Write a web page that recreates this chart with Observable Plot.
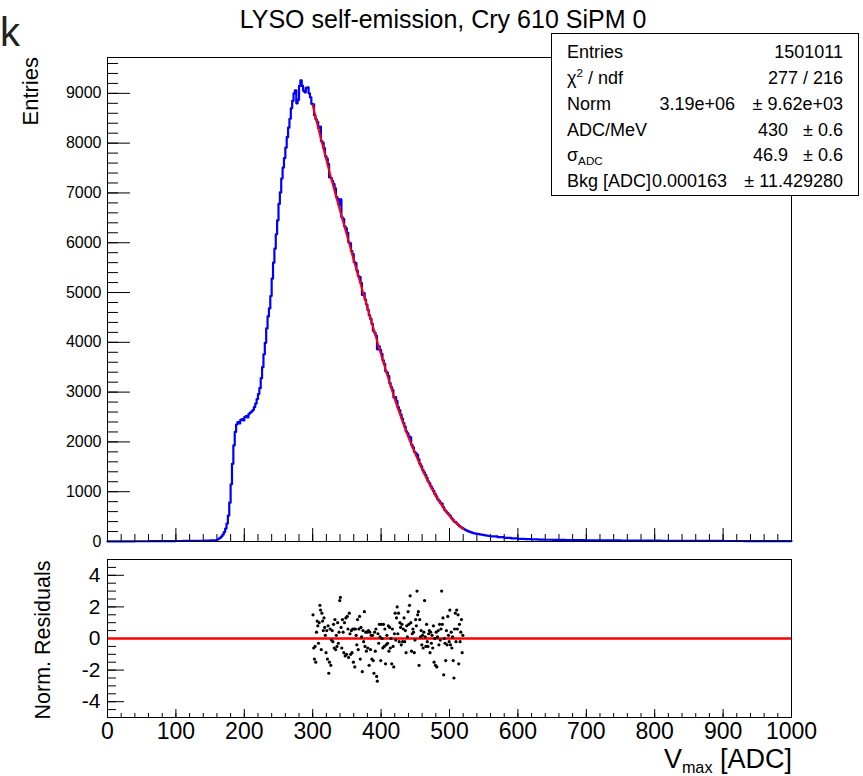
<!DOCTYPE html>
<html><head><meta charset="utf-8">
<script src="https://cdn.jsdelivr.net/npm/d3@7"></script>
<script src="https://cdn.jsdelivr.net/npm/@observablehq/plot@0.6"></script>
<style>
html,body{margin:0;padding:0;background:#fff;}
#wrap{position:relative;width:863px;height:776px;overflow:hidden;background:#fff;font-family:"Liberation Sans",Arial,Helvetica,sans-serif;}
.abs{position:absolute;white-space:nowrap;color:#000;}
#wrap svg{position:absolute;left:0;overflow:visible;}
</style></head>
<body><div id="wrap"></div>
<script>
// ---------------- data ----------------
const titleText = "LYSO self-emission, Cry 610 SiPM 0";
const panelTag = "k";
const yTitleTop = "Entries";
const yTitleBottom = "Norm. Residuals";

// histogram: counts per 1-ADC bin, listed in three segments
const lowStart = 0, lowWidth = 10;
const lowCounts = [2,3,3,4,5,5,6,7,8,9,10,11,12,14,17,24];
const mainStart = 160, mainWidth = 2;
const mainCounts = [
  40,55,75,100,140,190,260,360,520,780,
  1150,1560,1930,2200,2350,2400,2370,2440,2460,2430,
  2500,2520,2490,2560,2590,2610,2640,2700,2770,2860,
  2960,3080,3280,3500,3760,3990,4280,4520,4680,4930,
  5280,5600,5880,6170,6450,6780,7010,7290,7510,7700,
  7910,8120,8310,8490,8700,8850,9000,9060,8800,8870,
  9150,9260,9150,9050,9020,9110,9120,9000,8920,8790,
  8780,8560,8480,8430,8300,8330,8040,8010,7900,7740,
  7690,7580,7310,7300,7240,7180,7090,6920,6880,6760,
  6870,6510,6480,6330,6290,6200,6010,5990,5830,5770,
  5610,5590,5440,5330,5310,5190,4950,4990,4860,4760,
  4650,4540,4470,4370,4230,4190,4130,3860,3920,3850,
  3770,3640,3570,3420,3390,3320,3180,3100,3040,2890,
  2900,2820,2700,2640,2550,2470,2380,2310,2210,2170,
  2110,2090,1940,1890,1800,1770,1740,1650,1560,1510,
  1440,1390,1340,1280,1210,1170,1110,1060,1010,950,
  905,850,815,775,760,690,640,605,575,545,
  515,470,440,400,390,360,335,308,287,268,
  252,236,222,209,197,188,178,170,163,157,
  152,147,142,137,132,127,122,118,114,110
];
const tailStart = 560, tailWidth = 10;
const tailCounts = [104,86,72,62,54,48,43,39,35,33,31,29,27,26,25,24,23,22,21,20,
  19,18,17,16,16,15,14,14,13,13,12,12,11,11,10,10,10,9,9,9,8,8,8,8];
const histEnd = 1000;

// fit function (red)
const fitAdc = [300,310,320,330,340,350,360,370,380,390,400,410,420,430,440,450,460,470,480,490,500,510,520];
const fitCounts = [8760,8200,7660,7140,6640,6150,5650,5170,4700,4225,3750,3300,2860,2460,2090,1760,1450,1170,915,700,515,365,250];

// normalised residuals, one per bin from 300 to 519
const residStart = 300;
const residuals = [
  1.5,-0.6,-1.3,-0.5,-1.5,0.4,1.1,0.8,-0.3,1.0,
  2.1,1.8,-0.7,1.6,1.1,0.5,1.3,0.7,0.2,-0.9,
  0.5,-1.3,0.8,-2.2,-1.5,0.6,-1.7,-0.1,0.5,-0.2,
  0.9,-0.6,1.2,-0.7,0.2,-0.5,1.0,-0.3,0.4,2.4,
  2.6,0.7,-0.6,1.2,0.4,-0.9,1.0,-1.1,1.3,-1.0,
  1.4,0.6,-1.2,1.6,0.3,-1.0,0.5,-0.9,0.6,-1.5,
  0.6,-1.8,0.6,0.2,-0.4,1.2,-0.7,0.6,1.4,-1.3,
  0.7,0.1,-2.1,0.5,-0.2,1.7,-0.5,0.4,-0.8,0.4,
  -0.6,0.5,-1.7,0.4,-0.7,0.2,-1.3,0.2,-1.4,-2.2,
  0.4,-0.8,0.6,-2.4,-2.7,0.3,-0.3,0.9,0.1,-1.4,
  0.9,0.0,-0.6,0.9,-0.5,0.6,-1.6,-0.4,0.2,-0.3,
  0.8,-0.8,0.7,-0.6,0.0,-1.6,0.6,-0.5,-1.8,0.3,
  1.6,-0.1,1.3,2.0,0.3,1.6,-0.2,1.0,0.7,-0.4,
  0.9,-0.2,0.6,1.3,-0.2,0.5,-0.9,0.8,0.1,1.7,
  0.9,2.1,2.7,1.0,-0.8,0.3,0.6,0.4,-0.9,-0.1,
  1.2,0.8,3.0,1.5,1.7,-1.7,1.2,0.1,0.5,-0.4,
  0.2,-0.6,0.4,2.4,0.1,-0.5,0.9,-0.2,-0.5,0.3,
  0.5,-0.9,0.4,-0.3,0.2,-0.6,0.8,-1.5,0.0,-1.7,
  0.4,-1.8,0.1,0.5,-0.4,0.9,-0.1,0.6,3.0,0.9,
  1.3,-2.3,0.0,-0.3,-1.4,0.5,-0.4,1.4,0.2,-0.2,
  1.8,-0.4,0.4,-0.6,0.1,-1.4,-2.5,0.6,1.6,-0.2,
  1.8,0.6,1.5,-1.6,0.9,-0.2,0.4,1.2,-0.9,0.2
];

// axes
const xDomain = [0, 1000];
const yTopDomain = [0, 9720];
const yBottomDomain = [-5, 5];
const xTicks = [0,100,200,300,400,500,600,700,800,900,1000];
const xTickLabels = ["0","100","200","300","400","500","600","700","800","900","1000"];
const yTopTicks = [0,1000,2000,3000,4000,5000,6000,7000,8000,9000];
const yTopTickLabels = ["0","1000","2000","3000","4000","5000","6000","7000","8000","9000"];
const yBottomTicks = [-4,-2,0,2,4];
const yBottomTickLabels = ["-4","-2","0","2","4"];

// statistics box
const statNames = ["Entries","χ<sup>2</sup> / ndf","Norm","ADC/MeV","σ<sub>ADC</sub>","Bkg [ADC]"];
const statValues = ["1501011","277 / 216","3.19e+06","430","46.9","0.000163"];
const statErrors = ["","","± 9.62e+03","± 0.6","± 0.6","± 11.429280"];

// ---------------- build tables ----------------
const hist = [];
lowCounts.forEach((c,i)=>hist.push({x: lowStart + i*lowWidth, y: c}));
mainCounts.forEach((c,i)=>hist.push({x: mainStart + i*mainWidth, y: c}));
tailCounts.forEach((c,i)=>hist.push({x: tailStart + i*tailWidth, y: c}));
hist.push({x: histEnd, y: tailCounts[tailCounts.length-1]});
const fit = fitAdc.map((x,i)=>({x, y: fitCounts[i]}));
const resid = residuals.map((r,i)=>({x: residStart + i + 0.5, y: r}));

const xMinor = d3.range(xDomain[0], xDomain[1] + 1, 20);
const yTopMinor = d3.range(0, yTopDomain[1], 200);
const yBottomMinor = d3.range(-5, 5.01, 0.5);

const font = '"Liberation Sans", Arial, Helvetica, sans-serif';
const W = 863;
const L = 107, R = 72;
const frameW = W - L - R;

// ---------------- top panel ----------------
const topH = 560, topMT = 57, topMB = 19;
const topFrameH = topH - topMT - topMB;
const topPlot = Plot.plot({
  width: W, height: topH,
  marginLeft: L, marginRight: R, marginTop: topMT, marginBottom: topMB,
  style: {fontFamily: font, background: "transparent", color: "#000", overflow: "visible"},
  x: {domain: xDomain, axis: null},
  y: {domain: yTopDomain},
  marks: [
    Plot.ruleX(xMinor, {x: d=>d, insetTop: topFrameH - 7, stroke: "#000", strokeWidth: 1}),
    Plot.ruleX(xTicks, {x: d=>d, insetTop: topFrameH - 13, stroke: "#000", strokeWidth: 1}),
    Plot.ruleY(yTopMinor, {y: d=>d, insetRight: frameW - 11, stroke: "#000", strokeWidth: 1}),
    Plot.ruleY(yTopTicks, {y: d=>d, insetRight: frameW - 23, stroke: "#000", strokeWidth: 1}),
    Plot.axisY(yTopTicks, {tickSize: 0, tickPadding: 6, fontSize: 16, label: null,
      tickFormat: d => yTopTickLabels[yTopTicks.indexOf(d)]}),
    Plot.line(hist, {x: "x", y: "y", curve: "step-after", stroke: "#0000ff", strokeWidth: 2.2}),
    Plot.line(fit, {x: "x", y: "y", curve: "natural", stroke: "#ff0000", strokeWidth: 2}),
    Plot.frame({stroke: "#000", strokeWidth: 1})
  ]
});
topPlot.style.top = "0px";
document.getElementById("wrap").appendChild(topPlot);

// ---------------- residual panel ----------------
const botTop = 545, botH = 231, botMT = 14, botMB = 59;
const botFrameH = botH - botMT - botMB;
const botPlot = Plot.plot({
  width: W, height: botH,
  marginLeft: L, marginRight: R, marginTop: botMT, marginBottom: botMB,
  style: {fontFamily: font, background: "transparent", color: "#000", overflow: "visible"},
  x: {domain: xDomain, label: null},
  y: {domain: yBottomDomain, label: null},
  marks: [
    Plot.ruleX(xMinor, {x: d=>d, insetTop: botFrameH - 4, stroke: "#000", strokeWidth: 1}),
    Plot.ruleX(xTicks, {x: d=>d, insetTop: botFrameH - 8, stroke: "#000", strokeWidth: 1}),
    Plot.ruleY(yBottomMinor, {y: d=>d, insetRight: frameW - 9, stroke: "#000", strokeWidth: 1}),
    Plot.ruleY(yBottomTicks, {y: d=>d, insetRight: frameW - 17, stroke: "#000", strokeWidth: 1}),
    Plot.axisX(xTicks, {tickSize: 0, tickPadding: 5, fontSize: 23, label: null,
      tickFormat: d => xTickLabels[xTicks.indexOf(d)]}),
    Plot.axisY(yBottomTicks, {tickSize: 0, tickPadding: 7, fontSize: 21, label: null,
      tickFormat: d => yBottomTickLabels[yBottomTicks.indexOf(d)]}),
    Plot.ruleY([0], {stroke: "#ff0000", strokeWidth: 2.5}),
    Plot.dot(resid, {x: "x", y: "y", r: 1.6, fill: "#000", stroke: null}),
    Plot.frame({stroke: "#000", strokeWidth: 1})
  ]
});
botPlot.style.top = botTop + "px";
document.getElementById("wrap").appendChild(botPlot);

// ---------------- text around the plots ----------------
const wrap = document.getElementById("wrap");
function txt(html, o) {
  const d = document.createElement("div");
  d.className = "abs";
  d.innerHTML = html;
  const fs = o.size;
  d.style.fontSize = fs + "px";
  d.style.lineHeight = fs + "px";
  d.style.top = (o.baseline - 0.847 * fs) + "px";
  if (o.align === "right") d.style.right = (W - o.x) + "px";
  else if (o.align === "center") { d.style.left = (o.x - 400) + "px"; d.style.width = "800px"; d.style.textAlign = "center"; }
  else d.style.left = o.x + "px";
  if (o.color) d.style.color = o.color;
  (o.parent || wrap).appendChild(d);
  return d;
}
txt(panelTag, {x: 0, baseline: 46, size: 40, color: "#222"});
txt(titleText, {x: 443, baseline: 28, size: 25, align: "center"});

// rotated axis titles
function vtxt(text, o) {
  const d = document.createElement("div");
  d.className = "abs";
  d.textContent = text;
  d.style.fontSize = o.size + "px";
  d.style.lineHeight = o.size + "px";
  d.style.width = o.boxW + "px";
  d.style.textAlign = o.align;
  d.style.left = o.left + "px";
  d.style.top = o.top + "px";
  d.style.transformOrigin = "0 0";
  d.style.transform = "rotate(-90deg)";
  wrap.appendChild(d);
}
vtxt(yTitleTop, {size: 22, boxW: 300, align: "right", left: 20, top: 57 + 300});
vtxt(yTitleBottom, {size: 21.5, boxW: 400, align: "center", left: 33, top: 640 + 200});

// x title
txt('V<span style="font-size:0.6em;position:relative;top:0.32em">max</span> [ADC]', {x: 792, baseline: 769, size: 27, align: "right"});

// stats box
const box = document.createElement("div");
box.className = "abs";
box.style.left = "551px"; box.style.top = "33px";
box.style.width = "306px"; box.style.height = "161px";
box.style.border = "1px solid #000"; box.style.background = "#fff";
wrap.appendChild(box);
const rowBase = [58, 84, 110, 136, 161, 187];
const valRight = [843, 843, 735, 788, 788, 727];
statNames.forEach((n,i)=>{
  const h = n.replace("<sup>", '<span style="font-size:0.65em;position:relative;top:-0.55em">').replace("</sup>","</span>")
             .replace("<sub>", '<span style="font-size:0.65em;position:relative;top:0.35em">').replace("</sub>","</span>");
  txt(h, {x: 567, baseline: rowBase[i], size: 18});
  txt(statValues[i], {x: valRight[i], baseline: rowBase[i], size: 18, align: "right"});
  if (statErrors[i]) txt(statErrors[i], {x: 843, baseline: rowBase[i], size: 18, align: "right"});
});
</script></body></html>
